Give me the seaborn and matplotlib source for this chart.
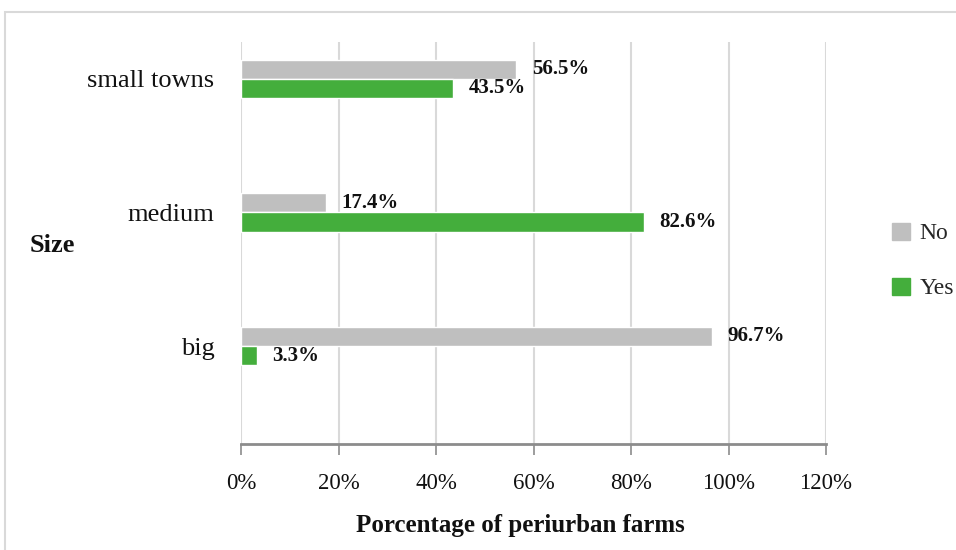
import matplotlib
matplotlib.use("Agg")
import matplotlib.pyplot as plt
from matplotlib.patches import Rectangle
import seaborn as sns
import pandas as pd

# data
sizes = ["small towns", "medium", "big"]
answers = ["No", "Yes"]
no_values = [56.5, 17.4, 96.7]
yes_values = [43.5, 82.6, 3.3]
x_ticks = [0, 20, 40, 60, 80, 100, 120]

df = pd.DataFrame({
    "size": sizes * 2,
    "answer": ["No"] * 3 + ["Yes"] * 3,
    "value": no_values + yes_values,
})

sns.set_theme(style="white")
plt.rcParams["font.family"] = ["Liberation Serif", "DejaVu Serif"]

fig = plt.figure(figsize=(9.56, 5.5), dpi=100)
ax = fig.add_axes([241 / 956, 1 - 444 / 550, 585 / 956, 402 / 550])

sns.barplot(data=df, y="size", x="value", hue="answer", order=sizes,
            hue_order=answers, orient="h", width=0.285, saturation=1,
            palette={"No": "#BFBFBF", "Yes": "#44AE3C"}, ax=ax, legend=False)

for cont in ax.containers:
    ax.bar_label(cont, labels=[f"{v:.1f}%" for v in cont.datavalues],
                 padding=11, fontsize=15, fontweight="bold", color="#111111")

ax.set_xlim(0, 120)
ax.set_ylim(2.734, -0.277)
ax.set_xticks(x_ticks)
ax.set_xticklabels([f"{t}%" for t in x_ticks], fontsize=16.5)
ax.tick_params(axis="x", length=8, width=1.2, color="#8C8C8C", pad=13,
               bottom=True, labelcolor="#111111")
ax.tick_params(axis="y", length=0, pad=19, labelsize=19, labelcolor="#111111")
ax.grid(axis="x", color="#D9D9D9", linewidth=1.5)
ax.set_axisbelow(True)
for s in ["top", "right", "left"]:
    ax.spines[s].set_visible(False)
ax.spines["bottom"].set_color("#8C8C8C")
ax.spines["bottom"].set_linewidth(2)

ax.set_xlabel("Porcentage of periurban farms", fontsize=18, fontweight="bold",
              labelpad=14, color="#111111")
ax.xaxis.label.set_x((520 - 241) / 585)
ax.set_ylabel("")
fig.text(30 / 956, 1 - 246 / 550, "Size", fontsize=19, fontweight="bold",
         va="center", ha="left", color="#111111")

handles = [Rectangle((0, 0), 1, 1, color="#BFBFBF"),
           Rectangle((0, 0), 1, 1, color="#44AE3C")]
fig.legend(handles, answers, loc="center left",
           bbox_to_anchor=(883 / 956, 1 - 261 / 550), frameon=False,
           fontsize=17, handlelength=0.75, handleheight=0.75,
           handletextpad=0.4, labelspacing=1.4, borderaxespad=0)

fig.patches.append(Rectangle((5 / 956, -0.1), 1.2, 1.1 - 12 / 550,
                             transform=fig.transFigure, fill=False,
                             edgecolor="#D9D9D9", linewidth=1.5))

fig.savefig("out.png", dpi=100)
